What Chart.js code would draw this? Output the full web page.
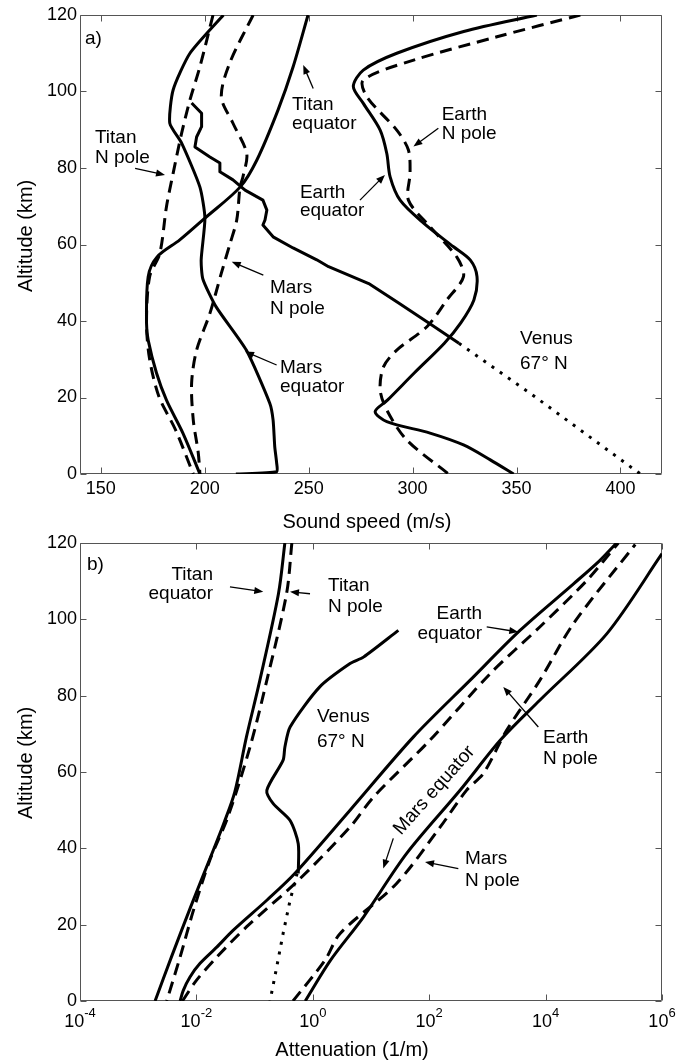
<!DOCTYPE html>
<html lang="en">
<head>
<meta charset="utf-8">
<title>Sound speed and attenuation profiles</title>
<script src="https://cdn.jsdelivr.net/npm/chart.js"></script>
<style>
  html, body { margin: 0; padding: 0; background: #fff; }
  #wrap { position: relative; width: 686px; height: 1061px; }
  canvas { position: absolute; left: 0; }
  #speedChart { top: 0; }
  #attnChart { top: 520px; }
</style>
</head>
<body>
<div id="wrap">
  <canvas id="speedChart" width="686" height="540"></canvas>
  <canvas id="attnChart" width="686" height="541"></canvas>
</div>
<script>
// ---------- panel a: sound speed (m/s) against altitude (km) ----------
const altTicks = [0, 20, 40, 60, 80, 100, 120];
const speedTicks = [150, 200, 250, 300, 350, 400];

const titanEqAlt   = [120, 106.4, 95.2, 82.1, 75, 66.9, 61.2, 56.7, 51.6, 39.5, 35, 26.4, 19.3, 10.7, 0];
const titanEqSpeed = [249.7, 242.5, 235.3, 225.1, 217, 200.1, 188, 177, 172.8, 172, 172.8, 176.8, 181.6, 189.5, 197.7];

const titanNpAlt   = [120, 106.5, 97.8, 89.1, 78.6, 69.9, 57.7, 51.6, 39.5, 30, 20.2, 11.5, 0];
const titanNpSpeed = [204, 197.7, 192.9, 188.9, 184.8, 181.6, 178.4, 173.5, 172, 173.5, 178, 186, 194.5];

const marsEqAlt   = [120, 110, 100.4, 91.7, 86.5, 75, 66.9, 56, 51, 43.7, 32.4, 18.5, 14.1, 7.1, 2.9, 0.6, 0];
const marsEqSpeed = [209, 192.9, 184.8, 183.2, 188.9, 197.7, 200.1, 198.3, 199.1, 205.5, 220, 231.3, 232.9, 233.7, 234.6, 234.6, 215];

const marsNpAlt   = [120, 107.4, 98.6, 91.7, 83.8, 77.7, 75, 66.4, 59.9, 52.5, 42, 32.4, 23.8, 14.1, 5.5, 0];
const marsNpSpeed = [223.3, 212, 208, 213.6, 220.2, 218.4, 217, 215.4, 212, 208, 202.5, 196.1, 193.7, 194.5, 196.9, 197.7];

const venusAlt   = [97, 94.3, 90.8, 88.1, 85.5, 82.9, 81.3, 79, 76.9, 74.2, 71.6, 69, 66.4, 65.1, 62, 59.1, 56, 54.2, 49.8, 44.7, 39.5, 34.2];
const venusSpeed = [193.7, 198.5, 198.5, 196.1, 195.3, 202.5, 207.3, 207.3, 213.6, 219.4, 228, 229.9, 229, 228, 232.9, 242.5, 253.9, 259.6, 278.9, 293.3, 307.8, 322.3];
const venusLowAlt   = [34.2, 21.1, 0];
const venusLowSpeed = [322.3, 356.6, 409.6];

const earthEqAlt   = [120, 115.7, 110, 105.6, 101.3, 96.9, 89.9, 83.8, 77.7, 71.6, 65.6, 59.4, 55.9, 51.6, 45.5, 39.5, 34.2, 26.4, 19.3, 16.3, 13.7, 10.7, 7.6, 3.7, 0];
const earthEqSpeed = [359.8, 324.6, 292.4, 276.3, 271.5, 276.3, 284.4, 287.6, 289.2, 294, 305.3, 319.7, 327.8, 331, 329.5, 323.2, 315.3, 300.8, 287.9, 282, 287.6, 308.4, 324.5, 337.4, 348.6];

const earthNpAlt   = [120, 114.3, 108.2, 103, 98.6, 89.9, 84.7, 78.7, 71.6, 64.6, 56.7, 51.6, 45.5, 38.5, 32.4, 28, 22, 16.7, 8.9, 0];
const earthNpSpeed = [380.7, 340.6, 300.5, 276.3, 278, 292.4, 298, 298.8, 298, 308.5, 321.3, 324.5, 316.5, 306.9, 292.4, 286, 284.4, 287.6, 297.2, 317.3];

// ---------- panel b: attenuation (1/m), read as powers of ten ----------
const attnTickExp = [-4, -2, 0, 2, 4, 6];
const attnTickBase = '10';
const attnTickPow = ['-4', '-2', '0', '2', '4', '6'];

const titanEqAttAlt = [120, 106.7, 84, 69.2, 54.8, 46.5, 39.5, 24.6, 11.5, 0];
const titanEqAttExp = [-0.48, -0.59, -0.91, -1.14, -1.34, -1.53, -1.71, -2.10, -2.43, -2.71];

const titanNpAttAlt = [120, 106.8, 84, 66.5, 48.2, 36.9, 23.8, 11.5, 0];
const titanNpAttExp = [-0.36, -0.45, -0.79, -1.08, -1.46, -1.77, -2.05, -2.28, -2.51];

const venusAttAlt = [33.4, 41.2, 47.3, 51.7, 55.2, 63.1, 66.5, 71.8, 82.3, 88.4, 90.1, 97.1];
const venusAttExp = [-0.25, -0.25, -0.39, -0.68, -0.79, -0.51, -0.48, -0.39, 0.12, 0.64, 0.87, 1.47];
const venusLowAttAlt = [33.4, 26.4, 17.7, 8.9, 0];
const venusLowAttExp = [-0.27, -0.39, -0.51, -0.62, -0.735];

const earthEqAttAlt = [0, 2.8, 6.3, 9.8, 14.1, 18.5, 26.4, 33.4, 50, 69.2, 84, 97.1, 109.3, 115.4, 120];
const earthEqAttExp = [-2.28, -2.225, -2.11, -1.94, -1.65, -1.37, -0.79, -0.31, 0.64, 1.73, 2.70, 3.56, 4.48, 4.93, 5.22];

const earthNpAttAlt = [0, 5.4, 11.5, 19.4, 31.6, 45.6, 53.4, 68.3, 85.8, 98, 110.2, 120];
const earthNpAttExp = [-2.24, -2.0, -1.65, -1.14, -0.25, 0.64, 1.04, 2.01, 3.05, 3.9, 4.71, 5.25];

const marsEqAttAlt = [0, 10.6, 22, 38.6, 55.2, 68.3, 78.8, 96.2, 117.2];
const marsEqAttExp = [-0.13, 0.30, 0.87, 1.61, 2.53, 3.22, 3.90, 5.05, 6.0];

const marsNpAttAlt = [0, 10.7, 17.7, 30.8, 45.6, 55.2, 59.6, 70.9, 84, 98.9, 119.6];
const marsNpAttExp = [-0.34, 0.21, 0.47, 1.44, 2.19, 2.64, 2.93, 3.33, 3.9, 4.48, 5.54];

// ---------- helpers ----------
const FONT = '"Liberation Sans", Arial, Helvetica, sans-serif';
Chart.defaults.font.family = FONT;
Chart.defaults.color = '#000';

const pts = (xs, ys) => xs.map((x, i) => ({ x: x, y: ys[i] }));
const pow10 = es => es.map(e => 10 ** e);
const lx = e => 10 ** e;

const solid  = { borderColor: '#000', borderWidth: 3, pointRadius: 0, showLine: true, fill: false, tension: 0.3, borderJoinStyle: 'round' };
const dashed = Object.assign({}, solid, { borderDash: [12, 7] });
const dotted = Object.assign({}, solid, { borderDash: [3, 7], tension: 0 });

// box with inward ticks on all four sides
const frame = {
  id: 'frame',
  beforeDatasetsDraw(chart) {
    const { ctx, chartArea: a, scales: { x, y } } = chart;
    const L = 6;
    const l = Math.round(a.left) + 0.5, r = Math.round(a.right) - 0.5;
    const t = Math.round(a.top) + 0.5, b = Math.round(a.bottom) - 0.5;
    ctx.save();
    ctx.strokeStyle = '#555';
    ctx.lineWidth = 1;
    ctx.beginPath();
    ctx.rect(l, t, r - l, b - t);
    x.ticks.forEach(tk => {
      const px = Math.round(x.getPixelForValue(tk.value)) + 0.5;
      ctx.moveTo(px, b); ctx.lineTo(px, b - L);
      ctx.moveTo(px, t); ctx.lineTo(px, t + L);
    });
    y.ticks.forEach(tk => {
      const py = Math.round(y.getPixelForValue(tk.value)) + 0.5;
      ctx.moveTo(l, py); ctx.lineTo(l + L, py);
      ctx.moveTo(r, py); ctx.lineTo(r - L, py);
    });
    ctx.stroke();
    ctx.restore();
  }
};

// axis titles, placed like the original figure (slightly off-centre)
function axisTitles(xText, xShift, xDrop) {
  return {
    id: 'axisTitles',
    afterDraw(chart) {
      const { ctx, chartArea: a } = chart;
      ctx.save();
      ctx.fillStyle = '#000';
      ctx.font = '20px ' + FONT;
      ctx.textBaseline = 'alphabetic';
      ctx.textAlign = 'center';
      ctx.fillText(xText, (a.left + a.right) / 2 + xShift, a.bottom + xDrop);
      ctx.translate(31.5, a.bottom - 182);
      ctx.rotate(-Math.PI / 2);
      ctx.textAlign = 'left';
      ctx.fillText('Altitude (km)', 0, 0);
      ctx.restore();
    }
  };
}

// text labels and arrows placed in data units
function notes(labels, arrows) {
  return {
    id: 'notes',
    afterDatasetsDraw(chart) {
      const { ctx, scales: { x, y } } = chart;
      const P = p => [x.getPixelForValue(p[0]), y.getPixelForValue(p[1])];
      ctx.save();
      ctx.fillStyle = '#000';
      ctx.strokeStyle = '#000';
      ctx.font = '19px ' + FONT;
      labels.forEach(n => {
        const [px, py] = P(n.at);
        ctx.save();
        ctx.translate(px, py);
        if (n.rotate) ctx.rotate(n.rotate * Math.PI / 180);
        ctx.textAlign = n.align || 'left';
        ctx.textBaseline = n.rotate ? 'middle' : 'alphabetic';
        n.text.forEach((s, i) => ctx.fillText(s, 0, i * (n.lh || 20)));
        ctx.restore();
      });
      ctx.lineWidth = 1.3;
      arrows.forEach(([from, to]) => {
        const [x1, y1] = P(from), [x2, y2] = P(to);
        const ang = Math.atan2(y2 - y1, x2 - x1);
        const c = Math.cos(ang), s = Math.sin(ang);
        ctx.beginPath();
        ctx.moveTo(x1, y1);
        ctx.lineTo(x2 - 6 * c, y2 - 6 * s);
        ctx.stroke();
        ctx.beginPath();
        ctx.moveTo(x2, y2);
        ctx.lineTo(x2 - 9 * c + 3.5 * s, y2 - 9 * s - 3.5 * c);
        ctx.lineTo(x2 - 9 * c - 3.5 * s, y2 - 9 * s + 3.5 * c);
        ctx.closePath();
        ctx.fill();
      });
      ctx.restore();
    }
  };
}

// 10^n tick labels for the attenuation axis
const powerLabels = {
  id: 'powerLabels',
  afterDraw(chart) {
    const { ctx, chartArea: a, scales: { x } } = chart;
    ctx.save();
    ctx.fillStyle = '#000';
    ctx.textAlign = 'left';
    ctx.textBaseline = 'alphabetic';
    attnTickExp.forEach((e, i) => {
      const px = x.getPixelForValue(10 ** e);
      ctx.font = '18px ' + FONT;
      const wb = ctx.measureText(attnTickBase).width;
      ctx.font = '13px ' + FONT;
      const wp = ctx.measureText(attnTickPow[i]).width;
      const left = px - (wb + wp) / 2;
      ctx.font = '18px ' + FONT;
      ctx.fillText(attnTickBase, left, a.bottom + 26);
      ctx.font = '13px ' + FONT;
      ctx.fillText(attnTickPow[i], left + wb, a.bottom + 16);
    });
    ctx.restore();
  }
};

function altAxis() {
  return {
    type: 'linear', min: 0, max: 120,
    afterBuildTicks: s => { s.ticks = altTicks.map(v => ({ value: v })); },
    afterFit: s => { s.width = 80; },
    grid: { display: false, drawTicks: false },
    border: { display: false },
    ticks: { padding: 3, font: { size: 18 }, color: '#000' },
    title: { display: false }
  };
}

// ---------- panel a ----------
new Chart(document.getElementById('speedChart'), {
  type: 'scatter',
  data: {
    datasets: [
      Object.assign({ label: 'Titan equator', data: pts(titanEqSpeed, titanEqAlt) }, solid),
      Object.assign({ label: 'Titan N pole', data: pts(titanNpSpeed, titanNpAlt) }, dashed),
      Object.assign({ label: 'Mars equator', data: pts(marsEqSpeed, marsEqAlt) }, solid, { tension: 0.2 }),
      Object.assign({ label: 'Mars N pole', data: pts(marsNpSpeed, marsNpAlt) }, dashed),
      Object.assign({ label: 'Venus 67° N', data: pts(venusSpeed, venusAlt) }, solid, { tension: 0 }),
      Object.assign({ label: 'Venus 67° N (extrapolated)', data: pts(venusLowSpeed, venusLowAlt) }, dotted),
      Object.assign({ label: 'Earth equator', data: pts(earthEqSpeed, earthEqAlt) }, solid),
      Object.assign({ label: 'Earth N pole', data: pts(earthNpSpeed, earthNpAlt) }, dashed)
    ]
  },
  options: {
    responsive: false,
    animation: false,
    devicePixelRatio: 1,
    layout: { padding: { top: 15, right: 24, left: 0, bottom: 0 } },
    plugins: { legend: { display: false }, tooltip: { enabled: false } },
    scales: {
      x: {
        type: 'linear', min: 140, max: 420,
        afterBuildTicks: s => { s.ticks = speedTicks.map(v => ({ value: v })); },
        afterFit: s => { s.height = 66; },
        grid: { display: false, drawTicks: false },
        border: { display: false },
        ticks: { padding: 4, font: { size: 18 }, color: '#000', maxRotation: 0 },
        title: { display: false }
      },
      y: altAxis()
    }
  },
  plugins: [frame, axisTitles('Sound speed (m/s)', -4, 54), notes([
    { text: ['a)'], at: [142.4, 112.4] },
    { text: ['Titan', 'equator'], at: [242.0, 95.2], lh: 19 },
    { text: ['Titan', 'N pole'], at: [147.2, 86.6], lh: 20.5 },
    { text: ['Earth', 'equator'], at: [245.8, 72.2], lh: 18 },
    { text: ['Earth', 'N pole'], at: [314.0, 92.6], lh: 19 },
    { text: ['Mars', 'N pole'], at: [231.4, 47.4], lh: 21 },
    { text: ['Mars', 'equator'], at: [236.2, 26.5], lh: 19 },
    { text: ['Venus', '67° N'], at: [351.7, 34.0], lh: 25 }
  ], [
    [[252.2, 100.8], [247.4, 106.9]],
    [[166.5, 79.9], [180.9, 78.2]],
    [[274.7, 71.6], [286.7, 78.2]],
    [[312.4, 90.4], [300.4, 85.6]],
    [[228.2, 52.0], [213.0, 55.5]],
    [[234.6, 28.5], [219.4, 32.0]]
  ])]
});

// ---------- panel b ----------
new Chart(document.getElementById('attnChart'), {
  type: 'scatter',
  data: {
    datasets: [
      Object.assign({ label: 'Titan equator', data: pts(pow10(titanEqAttExp), titanEqAttAlt) }, solid),
      Object.assign({ label: 'Titan N pole', data: pts(pow10(titanNpAttExp), titanNpAttAlt) }, dashed),
      Object.assign({ label: 'Venus 67° N', data: pts(pow10(venusAttExp), venusAttAlt) }, solid, { tension: 0.25 }),
      Object.assign({ label: 'Venus 67° N (extrapolated)', data: pts(pow10(venusLowAttExp), venusLowAttAlt) }, dotted),
      Object.assign({ label: 'Earth equator', data: pts(pow10(earthEqAttExp), earthEqAttAlt) }, solid),
      Object.assign({ label: 'Earth N pole', data: pts(pow10(earthNpAttExp), earthNpAttAlt) }, dashed),
      Object.assign({ label: 'Mars equator', data: pts(pow10(marsEqAttExp), marsEqAttAlt) }, solid),
      Object.assign({ label: 'Mars N pole', data: pts(pow10(marsNpAttExp), marsNpAttAlt) }, dashed)
    ]
  },
  options: {
    responsive: false,
    animation: false,
    devicePixelRatio: 1,
    layout: { padding: { top: 23, right: 24, left: 0, bottom: 0 } },
    plugins: { legend: { display: false }, tooltip: { enabled: false } },
    scales: {
      x: {
        type: 'logarithmic', min: 1e-4, max: 1e6,
        afterBuildTicks: s => { s.ticks = attnTickExp.map(e => ({ value: 10 ** e })); },
        afterFit: s => { s.height = 60; },
        grid: { display: false, drawTicks: false },
        border: { display: false },
        ticks: { display: false },
        title: { display: false }
      },
      y: altAxis()
    }
  },
  plugins: [frame, powerLabels, axisTitles('Attenuation (1/m)', -19, 55), notes([
    { text: ['b)'], at: [lx(-3.88), 112.8] },
    { text: ['Titan', 'equator'], at: [lx(-1.715), 110.2], align: 'right', lh: 18.5 },
    { text: ['Titan', 'N pole'], at: [lx(0.261), 107.3], lh: 20.7 },
    { text: ['Venus', '67° N'], at: [lx(0.072), 73.1], lh: 25 },
    { text: ['Earth', 'equator'], at: [lx(2.907), 100.0], align: 'right', lh: 20 },
    { text: ['Earth', 'N pole'], at: [lx(3.955), 67.7], lh: 21 },
    { text: ['Mars equator'], at: [lx(2.088), 55.2], align: 'center', rotate: -48.4 },
    { text: ['Mars', 'N pole'], at: [lx(2.615), 35.8], lh: 21.7 }
  ], [
    [[lx(-1.423), 108.5], [lx(-0.851), 107.2]],
    [[lx(-0.048), 106.7], [lx(-0.392), 107.2]],
    [[lx(2.988), 98.0], [lx(3.531), 96.7]],
    [[lx(3.875), 71.8], [lx(3.273), 82.3]],
    [[lx(1.383), 42.6], [lx(1.211), 34.7]],
    [[lx(2.5), 34.7], [lx(1.928), 36.4]]
  ])]
});
</script>
</body>
</html>
